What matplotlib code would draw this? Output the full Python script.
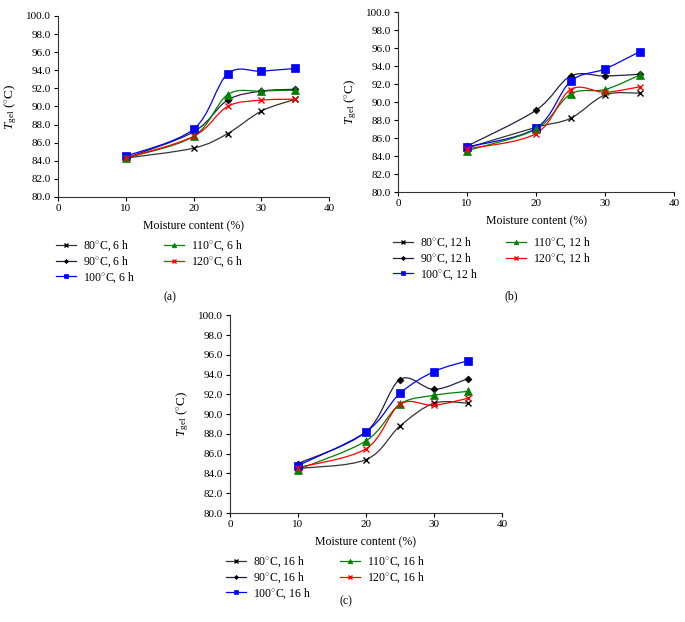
import numpy as np
import matplotlib
matplotlib.use('Agg')
import matplotlib.pyplot as plt
from matplotlib.path import Path
from matplotlib.patches import PathPatch
from matplotlib.lines import Line2D
from matplotlib.ticker import FormatStrFormatter

plt.rcParams['font.family'] = ['Liberation Serif', 'DejaVu Serif']
plt.rcParams['mathtext.fontset'] = 'custom'
plt.rcParams['mathtext.it'] = 'Liberation Serif:italic'
plt.rcParams['mathtext.rm'] = 'Liberation Serif'

moisture = [10, 20, 25, 30, 35]
temps = ['80', '90', '100', '110', '120']

# Tgel readings per panel, one list per drying temperature
tgel_6h = {
    '80': [84.3, 85.4, 87.0, 89.5, 90.8],
    '90': [84.3, 87.2, 90.7, 91.7, 91.9],
    '100': [84.5, 87.5, 93.6, 93.9, 94.2],
    '110': [84.3, 86.7, 91.3, 91.7, 91.8],
    '120': [84.3, 86.7, 90.0, 90.7, 90.8],
}
tgel_12h = {
    '80': [84.9, 87.2, 88.2, 90.8, 91.0],
    '90': [85.1, 89.1, 92.9, 92.9, 93.1],
    '100': [85.0, 87.1, 92.3, 93.7, 95.6],
    '110': [84.6, 87.0, 90.9, 91.4, 93.0],
    '120': [84.8, 86.5, 91.4, 91.1, 91.7],
}
tgel_16h = {
    '80': [84.5, 85.4, 88.8, 91.1, 91.1],
    '90': [85.0, 88.2, 93.5, 92.5, 93.6],
    '100': [84.8, 88.2, 92.1, 94.3, 95.4],
    '110': [84.4, 87.3, 91.0, 91.9, 92.3],
    '120': [84.6, 86.5, 91.0, 90.9, 91.6],
}

styles = {
    '80': dict(color='black', marker='x', ms=4, mew=1.0, lc='#333333'),
    '90': dict(color='black', marker='D', ms=3.5, mew=0.5, lc='#202040'),
    '100': dict(color='#0000ff', marker='s', ms=5.5, mew=0.5, lc='#0000ff'),
    '110': dict(color='#008000', marker='^', ms=5.5, mew=0.5, lc='#008000'),
    '120': dict(color='#ff0000', marker='x', ms=5, mew=1.0, lc='#ff0000'),
}


def smooth_path(x, y):
    # Catmull-Rom style bezier through the points (like a spreadsheet smooth line)
    p = np.column_stack([x, y]).astype(float)
    n = len(p)
    verts = [p[0]]
    codes = [Path.MOVETO]
    for i in range(n - 1):
        p0 = p[i - 1] if i > 0 else p[i]
        p3 = p[i + 2] if i + 2 < n else p[i + 1]
        c1 = p[i] + (p[i + 1] - p0) / 6.0
        c2 = p[i + 1] - (p3 - p[i]) / 6.0
        verts += [c1, c2, p[i + 1]]
        codes += [Path.CURVE4] * 3
    return Path(verts, codes)


def panel(rect, data, hours, letter, cap_xy, leg_xy):
    ax = fig.add_axes(rect)
    for t in temps:
        st = styles[t]
        ax.add_patch(PathPatch(smooth_path(moisture, data[t]), fill=False,
                               edgecolor=st['lc'], lw=0.9, zorder=2))
        ax.plot(moisture, data[t], linestyle='none', marker=st['marker'],
                color=st['color'], ms=st['ms'], mew=st['mew'], zorder=3)
    ax.set_xlim(0, 40)
    ax.set_ylim(80, 100)
    ax.set_xticks(np.arange(0, 41, 10))
    ax.set_yticks(np.arange(80, 100.1, 2))
    ax.yaxis.set_major_formatter(FormatStrFormatter('%.1f'))
    for s in ['top', 'right']:
        ax.spines[s].set_visible(False)
    for s in ['left', 'bottom']:
        ax.spines[s].set_linewidth(0.8)
        ax.spines[s].set_color('#333333')
    ax.tick_params(direction='out', length=3, width=0.8, labelsize=8, pad=2)
    ax.set_xlabel('Moisture content (%)', fontsize=8.5, labelpad=5)
    ax.set_ylabel(r'$T_{\mathrm{gel}}$ ($^{\circ}$C)', fontsize=9.5, labelpad=5)

    handles = []
    for t in temps:
        st = styles[t]
        handles.append(Line2D([], [], color=st['lc'], lw=0.9, marker=st['marker'],
                              markerfacecolor=st['color'], markeredgecolor=st['color'],
                              ms=st['ms'] * 0.6, mew=st['mew']))
    labels = [r'%s$^{\circ}$C, %s h' % (t, hours) for t in temps]
    fig.legend(handles, labels, loc='upper left', bbox_to_anchor=leg_xy, ncol=2,
               frameon=False, fontsize=8.5, handlelength=1.7, handletextpad=0.6,
               columnspacing=2.4, labelspacing=0.1, borderaxespad=0, borderpad=0)
    fig.text(cap_xy[0], cap_xy[1], '(%s)' % letter, ha='center', va='center', fontsize=8.5)
    return ax


fig = plt.figure(figsize=(6.85, 6.22), dpi=100)

panel([0.0847, 0.6833, 0.396, 0.291], tgel_6h, '6', 'a', (0.248, 0.5225), (0.082, 0.616))
panel([0.581, 0.6913, 0.403, 0.289], tgel_12h, '12', 'b', (0.746, 0.524), (0.573, 0.621))
panel([0.3358, 0.1752, 0.397, 0.318], tgel_16h, '16', 'c', (0.505, 0.033), (0.33, 0.108))

fig.savefig('out.png', dpi=100)
